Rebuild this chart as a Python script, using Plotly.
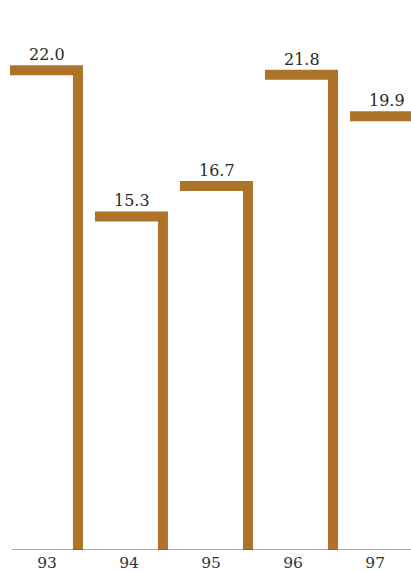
import plotly.graph_objects as go

years = ["93", "94", "95", "96", "97"]
values = [22.0, 15.3, 16.7, 21.8, 19.9]

BAR_COLOR = "#AD7429"
FONT = "DejaVu Serif"

fig = go.Figure()

for i, v in enumerate(values):
    left = i - 0.43
    right = i + 0.37
    fig.add_trace(go.Scatter(
        x=[left, right, right], y=[v, v, 0],
        mode="lines",
        line=dict(color=BAR_COLOR, width=10),
        hoverinfo="skip",
        showlegend=False,
    ))
    fig.add_annotation(
        x=i, y=v, text=f"{v:.1f}", showarrow=False,
        yanchor="bottom", yshift=4,
        font=dict(family=FONT, size=16, color="#2a2a2a"),
    )

# baseline
fig.add_shape(type="line", xref="x", yref="y", x0=-0.406, x1=4.4, y0=0, y1=0,
              line=dict(color="#555", width=1), layer="above")

fig.update_layout(
    width=411, height=571,
    margin=dict(l=0, r=0, t=20, b=21),
    paper_bgcolor="white", plot_bgcolor="white",
    xaxis=dict(
        range=[-0.547, 4.288], showgrid=False, zeroline=False, showline=False,
        tickmode="array",
        tickvals=[i * 0.965 + 0.006 for i in range(len(years))],
        ticktext=years, ticks="", automargin=False, ticklabelstandoff=1,
        tickfont=dict(family=FONT, size=15.5, color="#333"),
    ),
    yaxis=dict(range=[0, 24.31], visible=False),
)

fig.write_html("out.html")
